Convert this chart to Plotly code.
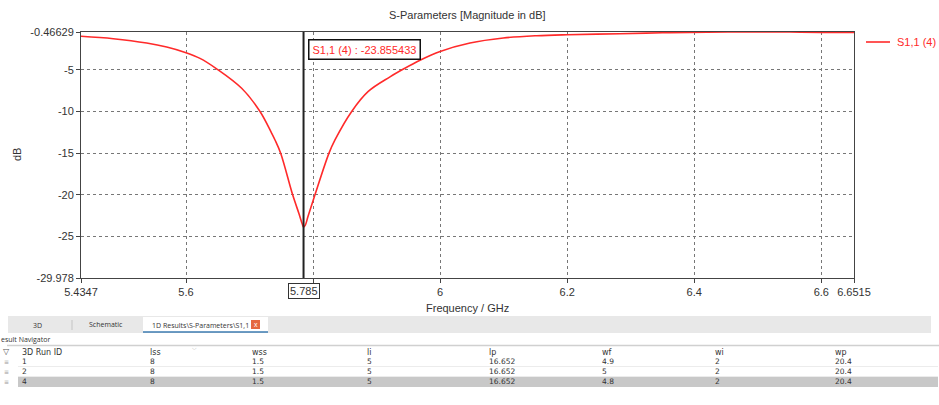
import plotly.graph_objects as go

# ---------------- data ----------------
freq_ghz = [5.4347, 5.4855, 5.5381, 5.5696, 5.6, 5.622, 5.6476, 5.6876, 5.7165,
            5.7349, 5.7401, 5.749, 5.7679, 5.778, 5.783, 5.785, 5.788, 5.792, 5.803,
            5.8251, 5.8345, 5.8608, 5.8869, 5.9211, 5.9436, 5.9683, 6.0, 6.047, 6.0995,
            6.152, 6.2, 6.2831, 6.35, 6.42, 6.5, 6.55, 6.6, 6.6515]
s11_db = [-0.98, -1.27, -1.79, -2.27, -2.95, -3.63, -4.85, -7.22, -10.0,
          -12.62, -13.42, -15.0, -20.0, -22.3, -23.5, -23.855433, -23.6, -22.6, -20.0,
          -15.0, -13.42, -10.0, -7.6, -5.85, -4.85, -3.85, -2.8, -1.79, -1.19,
          -0.91, -0.79, -0.67, -0.56, -0.49, -0.46629, -0.47, -0.52, -0.52]
series_name = "S1,1 (4)"

x_tickvals = [5.4347, 5.6, 5.8, 6.0, 6.2, 6.4, 6.6, 6.6515]
x_ticktext = ["5.4347", "5.6", "", "6", "6.2", "6.4", "6.6", "6.6515"]
y_tickvals = [-29.978, -25, -20, -15, -10, -5, -0.46629]
y_ticktext = ["-29.978", "-25", "-20", "-15", "-10", "-5", "-0.46629"]
x_range = [5.4347, 6.6515]
y_range = [-29.978, -0.46629]
marker_freq = 5.785
marker_value = -23.855433

# result navigator table
col_headers = ["3D Run ID", "lss", "wss", "li", "lp", "wf", "wi", "wp"]
run_ids = ["1", "2", "4"]
lss = ["8", "8", "8"]
wss = ["1.5", "1.5", "1.5"]
li = ["5", "5", "5"]
lp = ["16.652", "16.652", "16.652"]
wf = ["4.9", "5", "4.8"]
wi = ["2", "2", "2"]
wp = ["20.4", "20.4", "20.4"]
tabs = ["3D", "Schematic", "1D Results\\S-Parameters\\S1,1"]

# ---------------- layout helpers ----------------
W, H = 939, 405
def px(x):
    return x / W
def py(y):
    return 1 - y / H

FONT = "Liberation Sans"
UIFONT = "Open Sans"
TABFONT = "DejaVu Sans"
RED = "#ff2a2a"

fig = go.Figure()
fig.add_trace(go.Scatter(
    x=freq_ghz, y=s11_db, mode="lines", name=series_name,
    line=dict(color=RED, width=1.6, shape="spline", smoothing=1.0),
    showlegend=False, hoverinfo="x+y"))

axis_common = dict(
    showline=True, linecolor="#444", linewidth=1, mirror=True,
    showgrid=True, gridcolor="#777", griddash="dot", gridwidth=1,
    ticks="outside", ticklen=4, tickcolor="#444",
    tickfont=dict(family=FONT, size=11, color="#333"),
    zeroline=False, tickmode="array", automargin=False,
)
fig.update_layout(
    template="none",
    width=W, height=H,
    margin=dict(l=0, r=0, t=0, b=0, pad=0),
    paper_bgcolor="white", plot_bgcolor="white",
    showlegend=False,
    xaxis=dict(domain=[px(81), px(854)], range=x_range,
               tickvals=x_tickvals, ticktext=x_ticktext, **axis_common),
    yaxis=dict(domain=[py(278), py(32)], range=y_range,
               tickvals=y_tickvals, ticktext=y_ticktext, **axis_common),
)

ann = []
shapes = []

def text(t, x, y, size=9, color="#333", anchor="left", family=UIFONT, **kw):
    ann.append(dict(text=t, x=px(x), y=py(y), xref="paper", yref="paper", xanchor=anchor,
                    yanchor="middle", showarrow=False,
                    font=dict(family=family, size=size, color=color), **kw))

# titles
text("S-Parameters [Magnitude in dB]", 467, 15, size=11, anchor="center", family=FONT)
text("Frequency / GHz", 467, 308, size=11, anchor="center", family=FONT)
text("dB", 17, 155, size=11, anchor="center", family=FONT, textangle=-90)

# cursor / marker
shapes.append(dict(type="line", xref="x", yref="paper", x0=marker_freq, x1=marker_freq,
                   y0=py(278), y1=py(32), line=dict(color="#222", width=2)))
ann.append(dict(text=f"{marker_freq:g}", x=marker_freq, y=py(291), xref="x", yref="paper",
                xanchor="center", yanchor="middle",
                showarrow=False, bordercolor="#333", borderwidth=1, borderpad=1,
                font=dict(family=FONT, size=11, color="#333")))
text(f"{series_name} : {marker_value:.6f}", 364, 49.5, size=11, color=RED, anchor="center",
     family=FONT, bgcolor="white", bordercolor="#111", borderwidth=1.5, borderpad=3)

# legend (manual)
shapes.append(dict(type="line", xref="paper", yref="paper", x0=px(866), x1=px(890),
                   y0=py(42), y1=py(42), line=dict(color=RED, width=1.6)))
text(series_name, 895, 42, size=11, color=RED, family=FONT)

# ---------------- bottom UI ----------------
def rect(x0, y0, x1, y1, fill):
    shapes.append(dict(type="rect", xref="paper", yref="paper", x0=px(x0), x1=px(x1),
                       y0=py(y1), y1=py(y0), fillcolor=fill,
                       line=dict(width=0), layer="below"))

def hline(y, x0, x1, color, w=1):
    shapes.append(dict(type="line", xref="paper", yref="paper", x0=px(x0), x1=px(x1),
                       y0=py(y), y1=py(y), line=dict(color=color, width=w)))

# tab bar
rect(8, 316, 931, 333, "#e8e8e8")
rect(143, 317, 268, 332, "#ffffff")
hline(332, 143, 268, "#3d7bb0", 1.5)
shapes.append(dict(type="line", xref="paper", yref="paper", x0=px(72), x1=px(72),
                   y0=py(330), y1=py(320), line=dict(color="#c4c4c4", width=1)))
text(tabs[0], 37, 325, size=7, anchor="center")
text(tabs[1], 106, 324.5, size=7, anchor="center")
text(tabs[2], 200, 325, size=7, anchor="center")
rect(251, 320, 260, 329, "#e5683f")
text("x", 255.5, 324, size=7, color="white", anchor="center", family=FONT)

# navigator
text("esult Navigator", -1, 339.5, size=7, color="#333")
hline(345.5, 7, 939, "#d0d0d0", 1.5)

col_x = [20, 148, 250, 365, 487, 600, 713, 833]
row_y = [361.5, 371.5, 381.5]
rect(18, 376.5, 938, 387, "#c8c8c8")
for yy in (366.5, 376.5):
    hline(yy, 18, 938, "#ececec", 1)

text("\u25bd", 1, 351, size=8, color="#555", family=TABFONT)
text("\u2335", 190, 347.5, size=6, color="#aaa", family=TABFONT)
for cx, h in zip(col_x, col_headers):
    text(h, cx, 352, size=8, family=TABFONT)

columns = [run_ids, lss, wss, li, lp, wf, wi, wp]
for r, yy in enumerate(row_y):
    text("\u2261", 2, yy, size=6, color="#999", family=TABFONT)
    for cx, col in zip(col_x, columns):
        text(col[r], cx, yy, size=7.5, color="#333", family=TABFONT)

fig.update_layout(annotations=ann, shapes=shapes)
fig.write_html(
    "out.html",
    config={"displayModeBar": False},
    post_script=("document.body.style.margin='0';"
                 "document.body.style.overflow='hidden';"
                 "document.documentElement.style.overflow='hidden';"),
)
